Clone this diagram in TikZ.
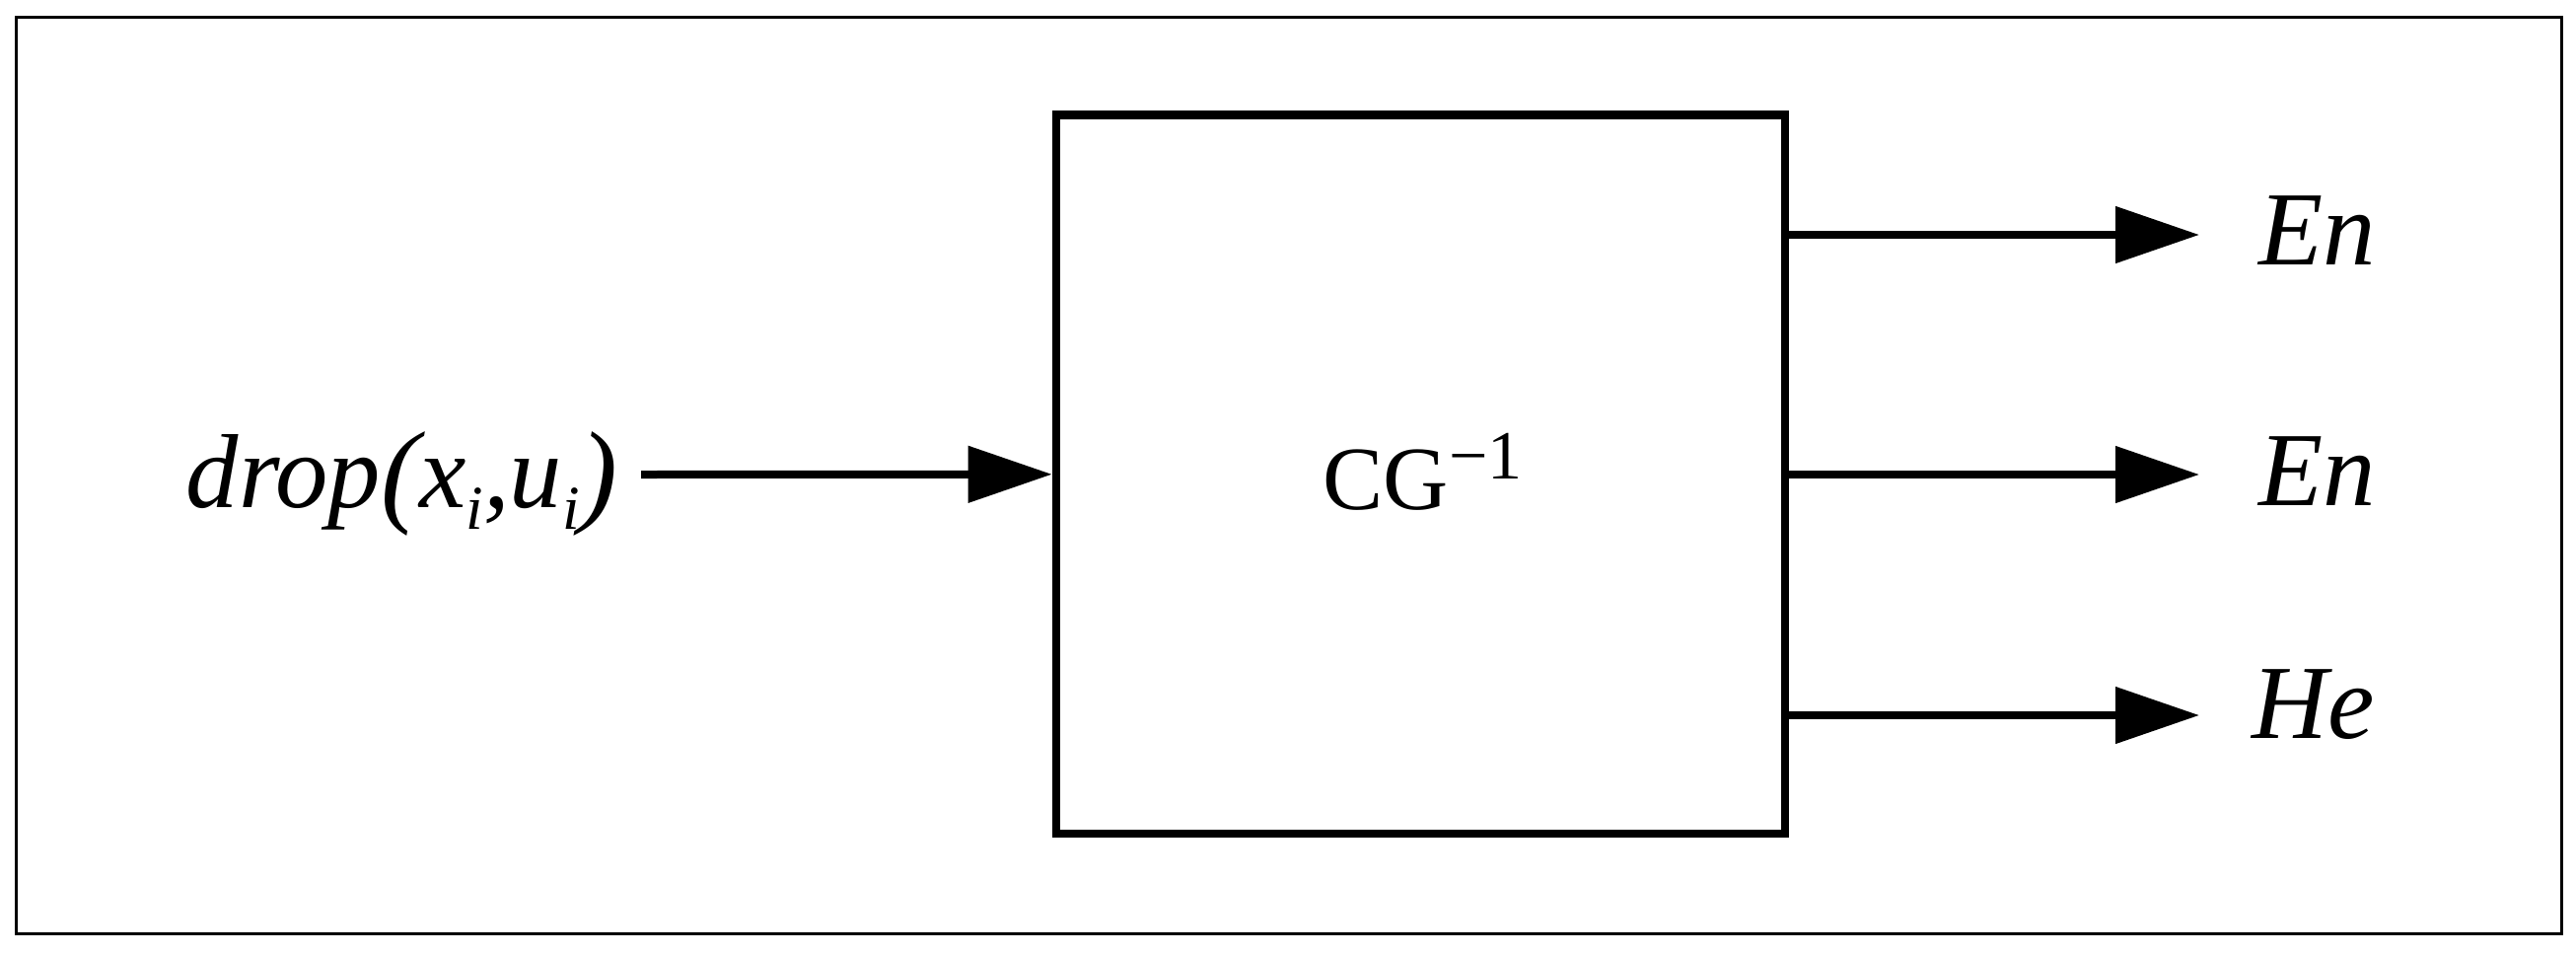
\documentclass[tikz,border=0pt]{standalone}
\usepackage{fontspec}
\setmainfont{Liberation Serif}
\usetikzlibrary{arrows.meta}
\begin{document}
\begin{tikzpicture}[x=0.3pt,y=-0.3pt,
  frame/.style={line width=1pt},
  blockbox/.style={draw,line width=2.6pt,inner sep=0pt,minimum width=221.7pt,minimum height=218.6pt},
  conn/.style={line width=2.4pt,-{Triangle[length=25.5pt,width=16.8pt]}},
  lab/.style={inner sep=0pt,font=\fontsize{32pt}{38pt}\selectfont\itshape}]
\useasboundingbox[fill=white] (0,0) rectangle (2612,967);
\draw[frame] (16.5,17.5) rectangle (2597.5,946.5);
\node[blockbox] (main) at (1440.5,480.75) {};
\node[inner sep=0pt,anchor=base west,font=\fontsize{27.5pt}{32pt}\selectfont] (lbl) at (1341,516) {CG\textsuperscript{\fontsize{21pt}{24pt}\selectfont −1}};
\node[lab,anchor=base west] (in) at (188,514) {drop\raisebox{-0.1ex}{\fontsize{35pt}{40pt}\selectfont (}x\raisebox{-0.45ex}{\fontsize{19pt}{22pt}\selectfont i},u\raisebox{-0.45ex}{\fontsize{19pt}{22pt}\selectfont i}\raisebox{-0.1ex}{\fontsize{35pt}{40pt}\selectfont )}};
\coordinate (s) at (650,481);
\draw[conn] (s) -- (main.west);
\coordinate (a1) at (1810,238);
\coordinate (a2) at (1810,481);
\coordinate (a3) at (1810,725);
\coordinate (t1) at (2230,238);
\coordinate (t2) at (2230,481);
\coordinate (t3) at (2230,725);
\draw[conn] (a1) -- (t1);
\draw[conn] (a2) -- (t2);
\draw[conn] (a3) -- (t3);
\node[lab,anchor=base west] (o1) at (2290,268) {En};
\node[lab,anchor=base west] (o2) at (2290,512) {En};
\node[lab,anchor=base west] (o3) at (2283,748) {He};
\end{tikzpicture}
\end{document}
